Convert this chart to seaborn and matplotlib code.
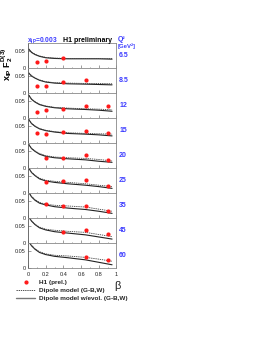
import numpy as np
import pandas as pd
import matplotlib
matplotlib.use("Agg")
import matplotlib.pyplot as plt
from matplotlib.lines import Line2D
import seaborn as sns

sns.set_theme(style="ticks")
plt.rcParams['font.family'] = ['Liberation Sans', 'DejaVu Sans']
plt.rcParams['mathtext.fontset'] = 'custom'
plt.rcParams['mathtext.rm'] = 'Liberation Sans'
plt.rcParams['mathtext.it'] = 'Liberation Sans'
plt.rcParams['mathtext.bf'] = 'Liberation Sans:bold'

# ---------------- data ----------------
q2_labels = ["6.5", "8.5", "12", "15", "20", "25", "35", "45", "60"]

# H1 preliminary points (beta, value) per Q2 bin
h1_beta = [
    [0.1, 0.2, 0.4],
    [0.1, 0.2, 0.4, 0.65],
    [0.1, 0.2, 0.4, 0.65, 0.9],
    [0.1, 0.2, 0.4, 0.65, 0.9],
    [0.2, 0.4, 0.65, 0.9],
    [0.2, 0.4, 0.65, 0.9],
    [0.2, 0.4, 0.65, 0.9],
    [0.4, 0.65, 0.9],
    [0.65, 0.9],
]
h1_val = [
    [0.018, 0.021, 0.030],
    [0.021, 0.021, 0.033, 0.039],
    [0.019, 0.024, 0.026, 0.034, 0.036],
    [0.029, 0.027, 0.032, 0.036, 0.029],
    [0.028, 0.028, 0.038, 0.023],
    [0.032, 0.035, 0.038, 0.021],
    [0.040, 0.036, 0.036, 0.020],
    [0.033, 0.038, 0.027],
    [0.032, 0.023],
]

model_beta = [0.01, 0.04, 0.08, 0.13, 0.2, 0.3, 0.45, 0.65, 0.8, 0.95]
dipole = [
    [0.055, 0.046, 0.040, 0.035, 0.031, 0.029, 0.028, 0.028, 0.028, 0.028],
    [0.058, 0.050, 0.044, 0.038, 0.033, 0.030, 0.029, 0.028, 0.028, 0.027],
    [0.066, 0.055, 0.047, 0.040, 0.035, 0.031, 0.029, 0.027, 0.026, 0.024],
    [0.068, 0.057, 0.049, 0.042, 0.037, 0.033, 0.030, 0.028, 0.027, 0.026],
    [0.068, 0.057, 0.049, 0.042, 0.036, 0.032, 0.030, 0.028, 0.025, 0.021],
    [0.072, 0.060, 0.051, 0.043, 0.037, 0.034, 0.031, 0.027, 0.023, 0.019],
    [0.074, 0.062, 0.053, 0.045, 0.040, 0.037, 0.035, 0.032, 0.026, 0.020],
    [0.075, 0.064, 0.054, 0.046, 0.040, 0.037, 0.034, 0.031, 0.025, 0.019],
    [0.076, 0.065, 0.055, 0.047, 0.041, 0.037, 0.035, 0.031, 0.026, 0.020],
]
dipole_evol = [
    [0.054, 0.045, 0.039, 0.034, 0.030, 0.028, 0.027, 0.027, 0.027, 0.026],
    [0.057, 0.049, 0.043, 0.037, 0.032, 0.029, 0.027, 0.026, 0.025, 0.024],
    [0.065, 0.054, 0.046, 0.039, 0.034, 0.030, 0.027, 0.025, 0.023, 0.020],
    [0.067, 0.056, 0.048, 0.041, 0.036, 0.032, 0.028, 0.026, 0.024, 0.021],
    [0.067, 0.056, 0.048, 0.040, 0.034, 0.030, 0.027, 0.024, 0.020, 0.017],
    [0.071, 0.059, 0.050, 0.041, 0.035, 0.031, 0.027, 0.023, 0.019, 0.014],
    [0.073, 0.061, 0.051, 0.043, 0.038, 0.033, 0.029, 0.025, 0.020, 0.014],
    [0.074, 0.063, 0.053, 0.044, 0.038, 0.033, 0.029, 0.024, 0.018, 0.012],
    [0.075, 0.064, 0.054, 0.045, 0.039, 0.034, 0.030, 0.024, 0.017, 0.010],
]

x_ticks = [0, 0.2, 0.4, 0.6, 0.8, 1]
x_tick_labels = ["0", "0.2", "0.4", "0.6", "0.8", "1"]

# ---------------- layout ----------------
W, H = 268, 347
fig = plt.figure(figsize=(W / 100, H / 100), dpi=100)
fig.patch.set_facecolor("white")

left_px, right_px = 28.0, 116.5
top_px, panel_h = 43.3, 25.0
blue = "#3b3bff"
axis_col = "#555555"

axes = []
for i, q in enumerate(q2_labels):
    y_top = top_px + i * panel_h
    ax = fig.add_axes([left_px / W, 1 - (y_top + panel_h) / H,
                       (right_px - left_px) / W, panel_h / H])
    ax.set_facecolor("white")
    dfm = pd.DataFrame({"beta": model_beta * 2,
                        "val": dipole[i] + dipole_evol[i],
                        "model": ["dip"] * len(model_beta) + ["evol"] * len(model_beta)})
    sns.lineplot(data=dfm[dfm.model == "evol"], x="beta", y="val", ax=ax,
                 color="#222222", lw=0.8, estimator=None, sort=True)
    sns.lineplot(data=dfm[dfm.model == "dip"], x="beta", y="val", ax=ax,
                 color="#444444", lw=0.6, estimator=None, sort=True,
                 dashes=False, linestyle=(0, (1.6, 1.0)))
    dfp = pd.DataFrame({"beta": h1_beta[i], "val": h1_val[i]})
    sns.scatterplot(data=dfp, x="beta", y="val", ax=ax, color="#ff1a1a",
                    s=9, linewidth=0, zorder=5)
    ax.set_xlim(0, 1)
    ax.set_ylim(0, 0.071)
    ax.set_xlabel("")
    ax.set_ylabel("")
    ax.set_yticks([0, 0.05])
    ax.set_yticklabels(["0", "0.05"])
    ax.set_xticks(x_ticks)
    ax.set_xticks(np.arange(0, 1.01, 0.1), minor=True)
    ax.tick_params(axis="both", which="both", direction="in", length=2,
                   width=0.4, color=axis_col, labelsize=4, pad=1.5,
                   labelcolor="#222222")
    ax.tick_params(axis="x", which="minor", length=1)
    if i == len(q2_labels) - 1:
        ax.set_xticklabels(x_tick_labels)
        ax.tick_params(axis="x", pad=2.5)
    else:
        ax.set_xticklabels([])
    for sp in ax.spines.values():
        sp.set_visible(True)
        sp.set_linewidth(0.6)
        sp.set_color("#888888")
    ax.spines["left"].set_color(axis_col)
    ax.text(1.03, 0.5, q, transform=ax.transAxes, color=blue, fontsize=5,
            fontweight="bold", ha="left", va="center")
    axes.append(ax)

# header texts
fig.text(27 / W, 1 - 40.5 / H, r"$\mathbf{x_{IP}}$=0.003", color=blue,
         fontsize=4.8, fontweight="bold", ha="left", va="center")
fig.text(112 / W, 1 - 40.5 / H, "H1 preliminary", color="black",
         fontsize=5, fontweight="bold", ha="right", va="center")
fig.text(118 / W, 1 - 39.5 / H, "Q²", color=blue,
         fontsize=5, fontweight="bold", ha="left", va="center")
fig.text(118 / W, 1 - 46.5 / H, "[GeV²]", color=blue,
         fontsize=4.3, fontweight="bold", ha="left", va="center")

# y label
fig.text(7.5 / W, 1 - 64 / H, r"$\mathbf{x_{IP}\ F_2^{D(3)}}$", rotation=90,
         fontsize=6.5, ha="center", va="center", color="black")

# beta label
fig.text(118 / W, 1 - 286 / H, r"$\beta$", fontsize=8, ha="center",
         va="center", color="#222222")

# legend
handles = [
    Line2D([], [], color="#ff1a1a", marker="o", markersize=2, lw=0),
    Line2D([], [], color="#333333", lw=0.6, linestyle=(0, (1.6, 1.0))),
    Line2D([], [], color="#777777", lw=1.0),
]
labels = ["H1 (prel.)", "Dipole model (G-B,W)", "Dipole model w/evol. (G-B,W)"]
fig.legend(handles, labels, loc="upper left",
           bbox_to_anchor=(16 / W, 1 - 280 / H), frameon=False,
           handlelength=3.0, handletextpad=0.6,
           labelspacing=0.35, borderaxespad=0, borderpad=0,
           prop={"weight": "bold", "size": 4.6})

fig.savefig("out.png", dpi=100, facecolor="white")
